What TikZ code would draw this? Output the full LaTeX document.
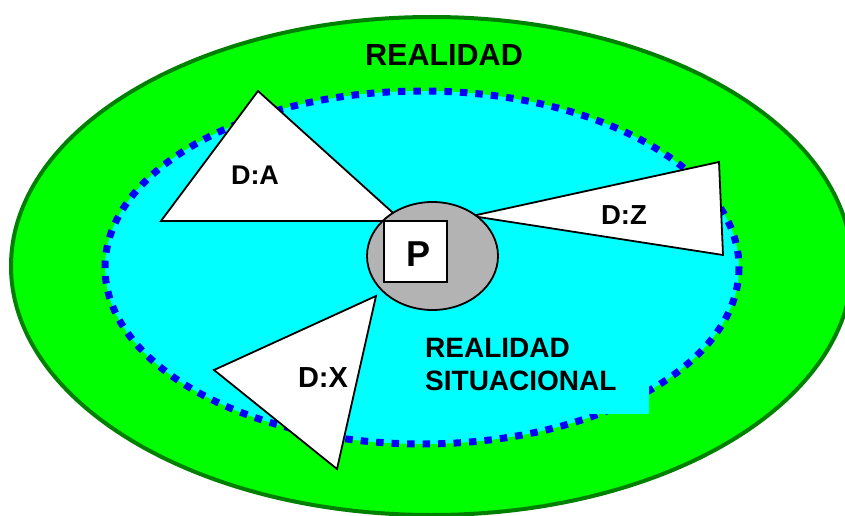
\documentclass[tikz,border=0pt]{standalone}
\usepackage{fontspec}
\setmainfont{Liberation Sans}
\usetikzlibrary{shapes.geometric}
\definecolor{brightgreen}{HTML}{00FF00}
\definecolor{darkgreen}{HTML}{008000}
\definecolor{aqua}{HTML}{00FFFF}
\definecolor{pure blue}{HTML}{0000FF}
\definecolor{midgray}{HTML}{B3B3B3}
\tikzset{
  lbl/.style={font=\bfseries\fontsize{#1}{#1}\selectfont, inner sep=0pt, text=black},
  lbl/.default=27,
  wedge/.style={draw=black, fill=white, line width=1.8pt, line join=miter},
}
\begin{document}
\begin{tikzpicture}[x=1pt,y=-1pt]
\clip (0,0) rectangle (845,516);
\fill[white] (0,0) rectangle (845,516);
% outer reality
\draw[draw=darkgreen, fill=brightgreen, line width=4pt] (431.5,266) ellipse [x radius=420.5, y radius=249];
% situational reality
\fill[aqua] (422,267.5) ellipse [x radius=317, y radius=176.5];
\draw[pure blue, line width=7pt, dash pattern=on 7.5pt off 8pt] (422,267.5) ellipse [x radius=317, y radius=176.5];
% wedges
\draw[wedge] (258,91) -- (161,221) -- (402,221) -- cycle;
\draw[wedge] (376,296) -- (214,370) -- (337,469) -- cycle;
\draw[wedge] (472,216) -- (719,162) -- (723,255) -- cycle;
% person
\draw[draw=black, fill=midgray, line width=1.8pt] (432.5,256) ellipse [x radius=65.5, y radius=54];
\node[draw=black, fill=white, line width=2.2pt, minimum width=63pt, minimum height=61pt, inner sep=0pt] (P) at (415.5,251.5) {};
\node[lbl=36, anchor=base] (Plbl) at (418.5,266) {P};
% label box
\fill[aqua] (405,325) rectangle (649,414);
\node[lbl=30.5, anchor=base] (real) at (444,66) {REALIDAD};
\node[lbl=28, anchor=base west] (sit1) at (425,357) {REALIDAD};
\node[lbl=28, anchor=base west] (sit2) at (425,390) {SITUACIONAL};
\node[lbl=27, anchor=base] (DA) at (255,184) {D:A};
\node[lbl=27.5, anchor=base] (DZ) at (624,224) {D:Z};
\node[lbl=29, anchor=base] (DX) at (323,387) {D:X};
\end{tikzpicture}
\end{document}
